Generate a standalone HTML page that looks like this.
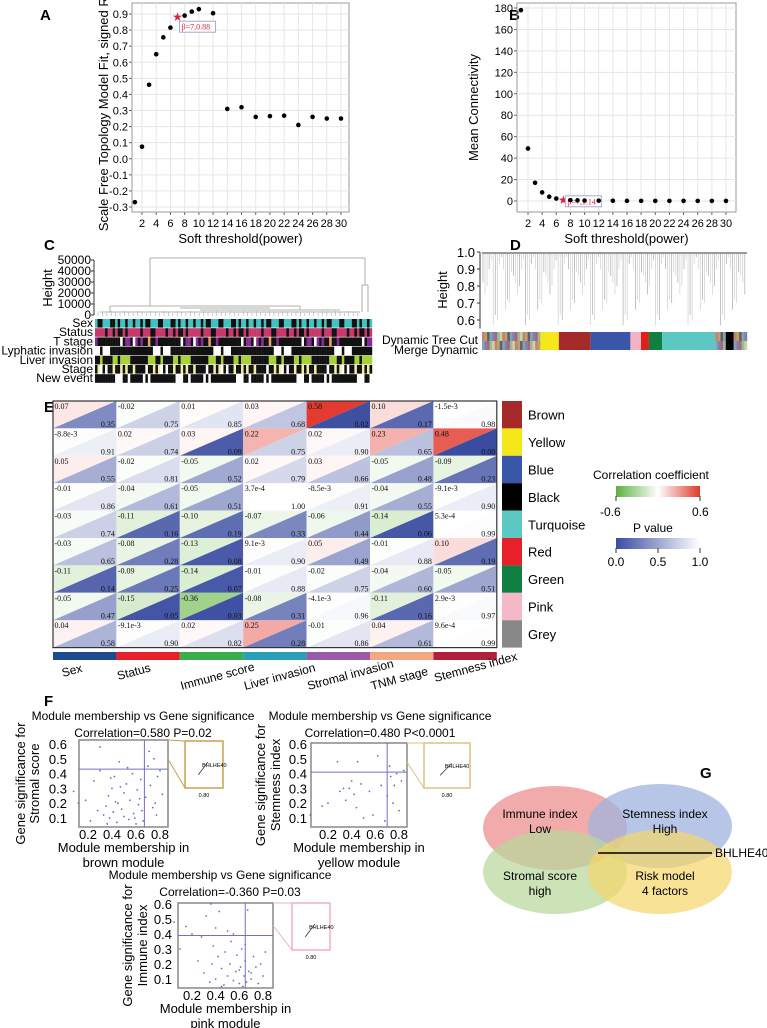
<!DOCTYPE html>
<html><head><meta charset="utf-8">
<style>
html,body{margin:0;padding:0;background:#fff;}
svg{display:block;font-family:"Liberation Sans",sans-serif;}
.lt{font-weight:bold;font-size:15px;}
.ser{font-family:"Liberation Serif",serif;font-size:8px;fill:#111;}
</style></head>
<body>
<svg id="fig" width="767" height="1028" viewBox="0 0 767 1028" xmlns="http://www.w3.org/2000/svg">
<text class="lt" x="40" y="20">A</text>
<text class="lt" x="509" y="20">B</text>
<text class="lt" x="44" y="250">C</text>
<text class="lt" x="510" y="250">D</text>
<text class="lt" x="44" y="412">E</text>
<text class="lt" x="44" y="706">F</text>
<text class="lt" x="700" y="778">G</text>
<g id="gA"></g>
<g id="gB"></g>
<g id="gC"></g>
<g id="gD"></g>
<g id="gE"></g>
<g id="gF"></g>
<g id="gG">
  <ellipse cx="555" cy="828" rx="72" ry="42" fill="#ee8f8f" fill-opacity="0.75"/>
  <ellipse cx="660" cy="826" rx="72" ry="42" fill="#9fb3de" fill-opacity="0.75"/>
  <ellipse cx="555" cy="872" rx="72" ry="42" fill="#b7d79a" fill-opacity="0.7"/>
  <ellipse cx="660" cy="872" rx="72" ry="42" fill="#f3d56a" fill-opacity="0.7"/>
  <text x="540" y="818" font-size="12" text-anchor="middle">Immune index</text>
  <text x="540" y="833" font-size="12" text-anchor="middle">Low</text>
  <text x="665" y="818" font-size="12" text-anchor="middle">Stemness index</text>
  <text x="665" y="833" font-size="12" text-anchor="middle">High</text>
  <text x="540" y="880" font-size="12" text-anchor="middle">Stromal score</text>
  <text x="540" y="895" font-size="12" text-anchor="middle">high</text>
  <text x="665" y="880" font-size="12" text-anchor="middle">Risk model</text>
  <text x="665" y="895" font-size="12" text-anchor="middle">4 factors</text>
  <line x1="598" y1="853" x2="712" y2="853" stroke="#000" stroke-width="1.5"/>
  <text x="715" y="857" font-size="12">BHLHE40</text>
</g>
</svg>
<script>
const NS="http://www.w3.org/2000/svg";
function mk(p,t,a,txt){const e=document.createElementNS(NS,t);for(const k in a)e.setAttribute(k,a[k]);if(txt!==undefined)e.textContent=txt;p.appendChild(e);return e;}

// ---------- Panel A data ----------
const powersA=[1,2,3,4,5,6,7,8,9,10,12,14,16,18,20,22,24,26,28,30];
const fitA=[-0.27,0.075,0.46,0.65,0.755,0.815,0.88,0.89,0.915,0.93,0.905,0.31,0.32,0.26,0.265,0.268,0.21,0.26,0.25,0.25];
const yTicksA=[-0.3,-0.2,-0.1,0.0,0.1,0.2,0.3,0.4,0.5,0.6,0.7,0.8,0.9];
const xTicks=[2,4,6,8,10,12,14,16,18,20,22,24,26,28,30];
// ---------- Panel B data ----------
const connB=[178,49,17,8,4,2.3,1.14,0.8,0.6,0.4,0.3,0.2,0.15,0.12,0.1,0.1,0.1,0.1,0.1,0.1];
const yTicksB=[0,20,40,60,80,100,120,140,160,180];
const softPick=7;

function scatterPanel(g,xl,xr,yt,yb,xs,ys,yticks,fmt,xvals,yvals,label,title,star){
  mk(g,"rect",{x:xl,y:yt,width:xr-xl,height:yb-yt,fill:"none",stroke:"#999","stroke-width":1});
  yticks.forEach(v=>{const y=ys(v);mk(g,"line",{x1:xl,x2:xr,y1:y,y2:y,stroke:"#e6e6e6"});
    const t=mk(g,"text",{x:xl-4,y:y+4,"text-anchor":"end","font-size":11},fmt(v));
    
    
    mk(g,"line",{x1:xl-3,x2:xl,y1:y,y2:y,stroke:"#666"});});
  xTicks.forEach(v=>{const x=xs(v);mk(g,"line",{x1:x,x2:x,y1:yt,y2:yb,stroke:"#e6e6e6"});
    const t=mk(g,"text",{x:x,y:yb+15,"text-anchor":"middle","font-size":11},String(v));
    
    
    mk(g,"line",{x1:x,x2:x,y1:yb,y2:yb+3,stroke:"#666"});});
  xvals.forEach((p,i)=>{
    if(p===softPick){const s=mk(g,"text",{x:xs(p),y:ys(yvals[i])+4,"text-anchor":"middle","font-size":12,fill:"#e0203a"},"★");
      
      
      const bx=xs(p)+2,by=ys(yvals[i])+(star.dy);
      mk(g,"rect",{x:bx,y:by,width:36,height:11,fill:"#fff",stroke:"#aac"});
      mk(g,"text",{x:bx+2,y:by+8.5,"font-size":8,fill:"#e0203a","font-family":"Liberation Serif,serif"},star.t);
    } else {const c=mk(g,"circle",{cx:xs(p),cy:ys(yvals[i]),r:2.3,fill:"#000"});
      
      }
  });
  mk(g,"text",{x:(xl+xr)/2,y:yb+31,"text-anchor":"middle","font-size":13},"Soft threshold(power)");
  mk(g,"text",{transform:`translate(${label.x},${(yt+yb)/2}) rotate(-90)`,"text-anchor":"middle","font-size":13},title);
}
{const g=document.getElementById("gA");
 const xs=p=>142+(p-2)*199/28, ys=v=>14+(0.9-v)*193/1.2;
 scatterPanel(g,132,349,3,212,xs,ys,yTicksA,v=>v.toFixed(1),powersA,fitA,{x:108},"Scale Free Topology Model Fit, signed R^2",{t:"β=7,0.88",dy:4});}
{const g=document.getElementById("gB");
 const xs=p=>528+(p-2)*198/28, ys=v=>201-v*193/180;
 scatterPanel(g,517,736,3,212,xs,ys,yTicksB,v=>String(v),powersA,connB,{x:478},"Mean Connectivity",{t:"β=7,1.14",dy:-4});}

// ---------- Panel C ----------
const traitNames=["Sex","Status","T stage","Lyphatic invasion","Liver invasion","Stage","New event"];
const traitPatterns=["tktkttkktkttktkkttktkttt","rkrrkrrkrkrrrkrkrrkrkrrr","kpkkwkpkkokkpkkwkkpkkkpk","kkwkkkwkkwkkkwkkwkkkwkkk","gkgkkgkgkkgkkgkgkgkkgkgk","ykkykwkkykkwkykkykkwkkyk","kkwkkkkwkwkkkwkkwkkkkwkk"];
const traitColors={t:"#3fc2c0",k:"#111",r:"#c8386a",p:"#8a2a9a",w:"#fff",o:"#f0a060",g:"#a8d03c",y:"#f2eda0"};
const cTicks=[0,10000,20000,30000,40000,50000];
{const g=document.getElementById("gC");
 const ys=v=>315-v*55/50000;
 mk(g,"line",{x1:94,x2:94,y1:ys(50000),y2:315,stroke:"#333"});
 cTicks.forEach(v=>{mk(g,"line",{x1:91,x2:94,y1:ys(v),y2:ys(v),stroke:"#333"});
   const t=mk(g,"text",{x:91,y:ys(v)+4,"text-anchor":"end","font-size":12},String(v));
   
   });
 mk(g,"text",{transform:"translate(52,288) rotate(-90)","text-anchor":"middle","font-size":13},"Height");
 const st="#999";
 mk(g,"path",{d:"M150 258 H365 M150 258 V306 M365 258 V285 M362 285 H368 M362 285 V312 M368 285 V312 M110 306 H300 M110 306 V312 M300 306 V310 M180 308 H270 M200 310 H340 M100 312 H360",stroke:st,fill:"none","stroke-width":0.8});
 for(let i=0;i<60;i++){const x=98+i*4.4;mk(g,"line",{x1:x,x2:x,y1:311+(i%3),y2:316,stroke:"#aaa","stroke-width":0.6});}
 traitNames.forEach((n,r)=>{const y=319+r*9.2;const pat=traitPatterns[r];
   const bg=mk(g,"g",{});
   
   
   const N=110,w=277/N;
   for(let i=0;i<N;i++){const c=pat[(i*7+r*3)%pat.length];mk(bg,"rect",{x:95+i*w,y:y,width:w+0.2,height:8.6,fill:traitColors[c]});}
   mk(g,"text",{x:93,y:y+8,"text-anchor":"end","font-size":12},n);});}

// ---------- Panel D ----------
const dTicks=[0.6,0.7,0.8,0.9,1.0];
const moduleBlocks=[["mix",0.22],["#f5e71a",0.07],["#a52a2a",0.12],["#3a56a8",0.15],["#f4b3c4",0.04],["#e0201c",0.03],["#108040",0.05],["#5cc8c4",0.2],["mix",0.04],["#000",0.03],["mix",0.05]];
{const g=document.getElementById("gD");
 const ys=v=>252+(1.0-v)*68/0.4;
 mk(g,"line",{x1:480,x2:480,y1:ys(1),y2:ys(0.55),stroke:"#333"});
 dTicks.forEach(v=>{mk(g,"line",{x1:477,x2:480,y1:ys(v),y2:ys(v),stroke:"#333"});
   const t=mk(g,"text",{x:475,y:ys(v)+5,"text-anchor":"end","font-size":13},v.toFixed(1));
   
   });
 mk(g,"text",{transform:"translate(447,290) rotate(-90)","text-anchor":"middle","font-size":13},"Height");
 mk(g,"line",{x1:482,x2:747,y1:253,y2:253,stroke:"#999","stroke-width":2});
 const depth=[0.82,0.7,0.9,0.6,0.95,0.75,0.88,0.66,0.93,0.57,0.8,0.86,0.72,0.97,0.63,0.9];
 for(let i=0;i<130;i++){const x=483+i*2.03;const d=depth[(i*5)%depth.length];
   mk(g,"line",{x1:x,x2:x,y1:254,y2:ys(d),stroke:i%3?"#bbb":"#888","stroke-width":0.5});}
 const mixc=["#c08080","#80a0c0","#90c090","#c0a060","#8080a0","#d0d0a0","#606060","#b06080"];
 let x0=482;const W=265;
 moduleBlocks.forEach(([c,f])=>{const w=W*f;
   if(c==="mix"){const n=Math.round(w/2.5);for(let i=0;i<n;i++){for(let r=0;r<2;r++)mk(g,"rect",{x:x0+i*w/n,y:332+r*9,width:w/n+0.2,height:9,fill:mixc[(i*3+r)%mixc.length]});}}
   else{mk(g,"rect",{x:x0,y:332,width:w,height:18,fill:c});}
   x0+=w;});
 mk(g,"text",{x:478,y:344,"text-anchor":"end","font-size":12},"Dynamic Tree Cut");
 mk(g,"text",{x:478,y:354,"text-anchor":"end","font-size":12},"Merge Dynamic");}

// ---------- Panel E heatmap data ----------
const modules=["Brown","Yellow","Blue","Black","Turquoise","Red","Green","Pink","Grey"];
const moduleColors=["#a52a2a","#f5e71a","#3a56a8","#000000","#5cc8c4","#e8202a","#108040","#f4b8c8","#888888"];
const traits=["Sex","Status","Immune score","Liver invasion","Stromal  invasion","TNM stage","Stemness index"];
const traitBarColors=["#1f4a8f","#e8202a","#3aae4a","#2aa0b8","#9a5aa8","#f4a880","#b0203a"];
const corLabels=[
["0.07","-0.02","0.01","0.03","0.58","0.10","-1.5e-3"],
["-8.8e-3","0.02","0.03","0.22","0.02","0.23","0.48"],
["0.05","-0.02","-0.05","0.02","0.03","-0.05","-0.09"],
["-0.01","-0.04","-0.05","3.7e-4","-8.5e-3","-0.04","-9.1e-3"],
["-0.03","-0.11","-0.10","-0.07","-0.06","-0.14","5.3e-4"],
["-0.03","-0.08","-0.13","9.1e-3","0.05","-0.01","0.10"],
["-0.11","-0.09","-0.14","-0.01","-0.02","-0.04","-0.05"],
["-0.05","-0.15","-0.36","-0.08","-4.1e-3","-0.11","2.9e-3"],
["0.04","-9.1e-3","0.02","0.25","-0.01","0.04","9.6e-4"]];
const pVals=[
[0.35,0.75,0.85,0.68,0.02,0.17,0.98],
[0.91,0.74,0.09,0.75,0.90,0.65,0.00],
[0.55,0.81,0.52,0.79,0.66,0.48,0.23],
[0.86,0.61,0.51,1.00,0.91,0.55,0.90],
[0.74,0.16,0.19,0.33,0.44,0.06,0.99],
[0.65,0.28,0.08,0.90,0.49,0.88,0.19],
[0.14,0.25,0.07,0.88,0.75,0.60,0.51],
[0.47,0.05,0.03,0.31,0.96,0.16,0.97],
[0.58,0.90,0.82,0.28,0.86,0.61,0.99]];
function mix(a,b,t){return "rgb("+a.map((v,i)=>Math.round(v+(b[i]-v)*t)).join(",")+")";}
function corColor(c){const t=Math.min(1,Math.abs(c)/0.6);return c>=0?mix([255,255,255],[226,52,40],t):mix([255,255,255],[96,180,64],t);}
function pColor(p){return mix([255,255,255],[58,76,160],1-p);}
{const g=document.getElementById("gE");
 const X0=53,Y0=401,CW=63.4,RH=27.4;
 corLabels.forEach((row,r)=>row.forEach((lab,c)=>{
   const x=X0+c*CW,y=Y0+r*RH,p=pVals[r][c],cv=parseFloat(lab);
   const cell=mk(g,"g",{});
   
   
   mk(cell,"path",{d:`M${x} ${y}H${x+CW}L${x} ${y+RH}Z`,fill:corColor(cv)});
   mk(cell,"path",{d:`M${x+CW} ${y}V${y+RH}H${x}Z`,fill:pColor(p)});
   mk(cell,"text",{x:x+1.5,y:y+8,class:"ser"},lab);
   mk(cell,"text",{x:x+CW-1.5,y:y+RH-1.5,class:"ser","text-anchor":"end"},p.toFixed(2));
 }));
 mk(g,"rect",{x:X0,y:Y0,width:CW*7,height:RH*9,fill:"none",stroke:"#333","stroke-width":1.2});
 modules.forEach((m,r)=>{const y=Y0+r*RH;
   const b=mk(g,"rect",{x:502,y:y,width:20,height:RH,fill:moduleColors[r]});
   
   
   mk(g,"text",{x:528,y:y+RH/2+5,"font-size":13},m);});
 traits.forEach((t,c)=>{const x=X0+c*CW;
   const b=mk(g,"rect",{x:x,y:652,width:CW,height:8,fill:traitBarColors[c]});
   
   
   const lx=x+(c===0?10:2), ly=c===0?677:c===1?680:c===6?682:690;
   mk(g,"text",{transform:`translate(${lx},${ly}) rotate(-15)`,"font-size":12},t);});
 const defs=mk(g,"defs",{});
 const lg1=mk(defs,"linearGradient",{id:"gcor"});
 mk(lg1,"stop",{offset:"0",  "stop-color":"#5cb040"});mk(lg1,"stop",{offset:"0.5","stop-color":"#fff"});mk(lg1,"stop",{offset:"1","stop-color":"#e03a2a"});
 const lg2=mk(defs,"linearGradient",{id:"gp"});
 mk(lg2,"stop",{offset:"0","stop-color":"#3a4ca0"});mk(lg2,"stop",{offset:"1","stop-color":"#fff"});
 mk(g,"text",{x:593,y:479,"font-size":12},"Correlation coefficient");
 mk(g,"rect",{x:616,y:486,width:84,height:11,fill:"url(#gcor)"});
 mk(g,"line",{x1:616,x2:616,y1:496,y2:501,stroke:"#333"});mk(g,"line",{x1:700,x2:700,y1:496,y2:501,stroke:"#333"});
 mk(g,"text",{x:600,y:516,"font-size":12},"-0.6");mk(g,"text",{x:692,y:516,"font-size":12},"0.6");
 mk(g,"text",{x:633,y:532,"font-size":12},"P value");
 mk(g,"rect",{x:616,y:538,width:84,height:11,fill:"url(#gp)"});
 [0,0.5,1].forEach(v=>{const x=616+v*84;mk(g,"line",{x1:x,x2:x,y1:548,y2:553,stroke:"#333"});
   mk(g,"text",{x:x,y:566,"font-size":12,"text-anchor":"middle"},v.toFixed(1));});}

// ---------- Panel F data ----------
const mmBrown=[0.08,0.12,0.18,0.22,0.25,0.28,0.3,0.33,0.35,0.37,0.38,0.4,0.41,0.42,0.44,0.45,0.46,0.48,0.5,0.5,0.52,0.54,0.55,0.57,0.58,0.6,0.61,0.62,0.64,0.65,0.66,0.68,0.7,0.72,0.74,0.75,0.77,0.78,0.8,0.82,0.36,0.43,0.47,0.53,0.59,0.63,0.71,0.76,0.3,0.39];
const gsBrown=[0.28,0.2,0.22,0.08,0.35,0.15,0.58,0.12,0.18,0.25,0.1,0.3,0.14,0.38,0.07,0.2,0.48,0.16,0.27,0.11,0.33,0.09,0.22,0.4,0.13,0.06,0.29,0.19,0.36,0.15,0.08,0.24,0.45,0.32,0.17,0.5,0.12,0.38,0.42,0.26,0.06,0.21,0.31,0.44,0.1,0.23,0.55,0.2,0.42,0.37];
const mmYellow=[0.05,0.15,0.2,0.28,0.3,0.33,0.35,0.38,0.4,0.42,0.44,0.45,0.48,0.5,0.55,0.58,0.62,0.65,0.68,0.72,0.73,0.75,0.78,0.8,0.82,0.84,0.7,0.76];
const gsYellow=[0.12,0.18,0.2,0.48,0.28,0.3,0.22,0.3,0.35,0.26,0.17,0.48,0.33,0.1,0.28,0.12,0.52,0.32,0.08,0.45,0.38,0.2,0.4,0.15,0.35,0.42,0.25,0.32];
const mmPink=[0.05,0.1,0.15,0.2,0.25,0.28,0.3,0.32,0.35,0.37,0.38,0.4,0.42,0.43,0.45,0.47,0.48,0.5,0.52,0.53,0.55,0.57,0.58,0.6,0.61,0.62,0.63,0.64,0.65,0.66,0.67,0.68,0.7,0.72,0.74,0.76,0.78,0.8,0.82,0.4,0.36,0.55,0.6,0.65,0.7,0.45,0.5];
const gsPink=[0.48,0.3,0.45,0.4,0.22,0.38,0.14,0.52,0.08,0.2,0.32,0.1,0.25,0.55,0.17,0.06,0.28,0.12,0.2,0.35,0.09,0.15,0.26,0.07,0.18,0.3,0.05,0.12,0.22,0.08,0.56,0.15,0.1,0.25,0.18,0.07,0.2,0.12,0.28,0.44,0.6,0.4,0.16,0.33,0.14,0.05,0.42];
const sTicksY=[0.1,0.2,0.3,0.4,0.5,0.6], sTicksX=[0.2,0.4,0.6,0.8];
function modScatter(g,o,mm,gs){
  const xs=v=>o.x2+(v-0.2)*(o.x8-o.x2)/0.6, ys=v=>o.y6+(0.6-v)*(o.y1-o.y6)/0.5;
  mk(g,"text",{x:o.tx,y:o.ty,"text-anchor":"middle","font-size":12},"Module membership vs Gene significance");
  mk(g,"text",{x:o.tx+o.cdx,y:o.ty+17,"text-anchor":"middle","font-size":12},o.corr);
  mk(g,"rect",{x:o.l,y:o.t,width:o.r-o.l,height:o.b-o.t,fill:"#fff",stroke:"#888","stroke-width":1.5});
  mm.forEach((v,i)=>{const c=mk(g,"circle",{cx:xs(v),cy:ys(gs[i]),r:0.9,fill:"#6a6ad0"});
    
    });
  mk(g,"line",{x1:xs(o.cx),x2:xs(o.cx),y1:o.t,y2:o.b,stroke:"#7070c8"});
  mk(g,"line",{x1:o.l,x2:o.r,y1:ys(o.cy),y2:ys(o.cy),stroke:"#7070c8"});
  sTicksY.forEach(v=>{const t=mk(g,"text",{x:o.l-o.tkoff,y:ys(v)+5,"text-anchor":"end","font-size":13},v.toFixed(1));
    
    });
  sTicksX.forEach(v=>{const t=mk(g,"text",{x:xs(v),y:o.b+12,"text-anchor":"middle","font-size":13},v.toFixed(1));
    
    });
  const mx=(o.l+o.r)/2;
  mk(g,"text",{x:mx,y:o.b+25,"text-anchor":"middle","font-size":13},"Module membership in");
  mk(g,"text",{x:mx,y:o.b+40,"text-anchor":"middle","font-size":13},o.mod);
  const cy=(o.t+o.b)/2;
  mk(g,"text",{transform:`translate(${o.l-o.yt1},${cy}) rotate(-90)`,"text-anchor":"middle","font-size":13},"Gene significance for");
  mk(g,"text",{transform:`translate(${o.l-o.yt2},${cy}) rotate(-90)`,"text-anchor":"middle","font-size":13},o.ylab);
  const i=o.ins;
  mk(g,"path",{d:`M${o.r} ${o.t} L${i.x} ${i.y} M${o.r} ${ys(o.cy)-10} L${i.x} ${i.y+i.h}`,stroke:o.ic,fill:"none"});
  mk(g,"rect",{x:i.x,y:i.y,width:i.w,height:i.h,fill:"#fff",stroke:o.ic,"stroke-width":1.5});
  mk(g,"text",{x:i.x+i.w*0.45,y:i.y+i.h*0.55,"font-size":5.5},"BHLHE40");
  mk(g,"line",{x1:i.x+i.w*0.35,y1:i.y+i.h*0.72,x2:i.x+i.w*0.6,y2:i.y+i.h*0.45,stroke:"#333","stroke-width":0.8});
  mk(g,"text",{x:i.x+i.w*0.5,y:i.y+i.h+9,"font-size":5.5,"text-anchor":"middle"},"0.80");
}
{const g=document.getElementById("gF");
 modScatter(g,{l:79,r:168,t:740,b:827,x2:88,x8:160,y6:744,y1:818,cx:0.67,cy:0.43,tx:143,ty:720,cdx:0,tkoff:12,yt1:54,yt2:40,corr:"Correlation=0.580  P=0.02",mod:"brown module",ylab:"Stromal score",ic:"#c8a050",ins:{x:185,y:741,w:38,h:47}},mmBrown,gsBrown);
 modScatter(g,{l:311,r:407,t:743,b:827,x2:328,x8:399,y6:744,y1:818,cx:0.7,cy:0.41,tx:380,ty:720,cdx:0,tkoff:4,yt1:46,yt2:31,corr:"Correlation=0.480  P<0.0001",mod:"yellow module",ylab:"Stemness index",ic:"#e0c080",ins:{x:424,y:743,w:46,h:45}},mmYellow,gsYellow);
 modScatter(g,{l:178,r:273,t:903,b:988,x2:192,x8:263,y6:904,y1:979,cx:0.65,cy:0.39,tx:220,ty:879,cdx:10,tkoff:6,yt1:46,yt2:31,corr:"Correlation=-0.360  P=0.03",mod:"pink module",ylab:"Immune index",ic:"#f0b0c0",ins:{x:292,y:903,w:38,h:47}},mmPink,gsPink);}
</script>
</body></html>
